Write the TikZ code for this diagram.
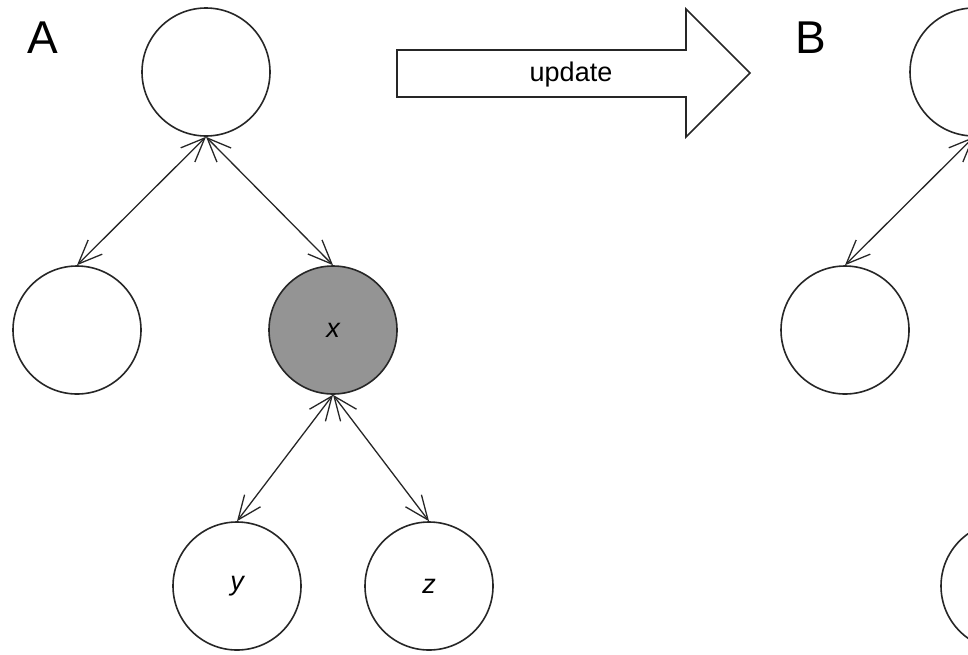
\documentclass[tikz,border=0pt]{standalone}
\usepackage{fontspec}
\setmainfont{Liberation Sans}
\usetikzlibrary{arrows.meta}

\colorlet{node edge}{black!85}
\definecolor{node area}{gray}{0.58}
\tikzset{var/.style={circle, draw=node edge, line width=1.6pt, minimum size=128pt,
        inner sep=0pt, font=\fontsize{27}{31}\selectfont\itshape},
    shaded/.style={var, fill=node area},
    link/.style={<->, draw=node edge, line width=1.3pt},
    panel/.style={font=\fontsize{46}{52}\selectfont},
    >={Straight Barb[length=24pt,width=20pt]}}

\begin{document}
\begin{tikzpicture}[x=1pt, y=-1pt]

    \useasboundingbox (0,0) rectangle (968,654);
    \clip (0,0) rectangle (968,654);

    % network before the update
    \node[panel] (labA) at (43,38) {A};
    \node[var] (topA) at (206,72) {};
    \node[var] (leftA) at (77,330) {};
    \node[shaded] (x) at (333,330) {x};
    \node[var] (y) at (237,586) {y};
    \node[var] (z) at (429,586) {z};

    \draw[link] (topA.south) -- (leftA.north);
    \draw[link] (topA.south) -- (x.north);
    \draw[link] (x.south) -- (y.north);
    \draw[link] (x.south) -- (z.north);

    % update arrow
    \draw[draw=node edge, line width=1.6pt, line join=miter]
        (397,50) -- (686,50) -- (686,9) -- (750,73) -- (686,137)
        -- (686,97) -- (397,97) -- cycle;
    \node[font=\fontsize{27}{31}\selectfont] (upd) at (571,75) {update};

    % network after the update
    \begin{scope}[xshift=768pt]
        \node[panel] (labB) at (43,38) {B};
        \node[var] (topB) at (206,72) {};
        \node[var] (leftB) at (77,330) {};
        \node[var] (yB) at (237,586) {};
        \draw[link] (topB.south) -- (leftB.north);
    \end{scope}

\end{tikzpicture}
\end{document}
